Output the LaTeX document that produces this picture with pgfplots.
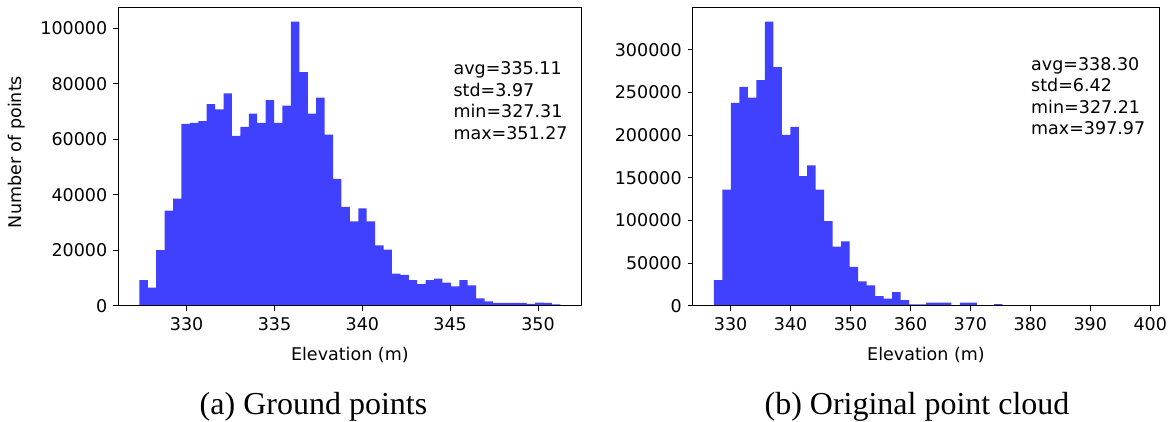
\documentclass[border=0pt]{standalone}
\usepackage{pgfplots}
\pgfplotsset{compat=1.18}
\usepackage{fontspec}
\setmainfont{DejaVu Sans}
\newfontfamily\capfont{Liberation Serif}
\definecolor{histblue}{RGB}{64,64,255}

\begin{document}
\begin{tikzpicture}
\useasboundingbox (0pt,0pt) rectangle (1170pt,421pt);
\pgfplotsset{
 hist/.style={
  scale only axis,
  height=298.4pt,
  anchor=south west,
  axis on top,
  axis line style={black, line width=1pt},
  every tick/.style={black, line width=1pt},
  major tick length=5pt,
  tick align=outside,
  xtick pos=left, ytick pos=left,
  scaled y ticks=false, scaled x ticks=false,
  /pgf/number format/fixed,
  /pgf/number format/1000 sep={},
  /pgf/number format/assume math mode=true,
  ticklabel style={font=\fontsize{17.5}{21}\selectfont},
  xticklabel style={yshift=-3pt},
  yticklabel style={xshift=-2.5pt},
  label style={font=\fontsize{17.5}{21}\selectfont},
  xlabel style={at={(axis description cs:0.5,-0.1853)}, anchor=base},
  ymin=0,
 }
}
% ---------- (a) ground points ----------
\begin{axis}[hist, at={(118.3pt,115.3pt)}, width=463.1pt,
  xmin=326.11, xmax=352.47, ymax=107520,
  xtick={330,335,340,345,350},
  ytick={0,20000,40000,60000,80000,100000},
  xlabel={Elevation (m)}, ylabel={Number of points},
  ylabel style={at={(axis description cs:-0.208,0.515)}, anchor=base, rotate=0}]
\addplot[const plot, fill=histblue, draw=none] coordinates {
(327.31,9200) (327.789,6500) (328.268,20000) (328.748,34300) (329.227,38600)
(329.706,65500) (330.185,65900) (330.664,66500) (331.144,72600) (331.623,70700)
(332.102,76500) (332.581,61200) (333.060,64400) (333.540,69200) (334.019,65900)
(334.498,74100) (334.977,65900) (335.456,72100) (335.936,102400) (336.415,84200)
(336.894,69200) (337.373,75000) (337.852,61600) (338.332,45700) (338.811,35600)
(339.290,30400) (339.769,35100) (340.248,30400) (340.728,21700) (341.207,20200)
(341.686,11600) (342.165,11100) (342.644,9200) (343.124,7800) (343.603,9200)
(344.082,9800) (344.561,8300) (345.040,7000) (345.520,9200) (345.999,7300)
(346.478,2600) (346.957,1600) (347.436,1000) (347.916,1000) (348.395,1000)
(348.874,1000) (349.353,700) (349.832,1100) (350.312,1000) (350.791,500)
(351.27,500)} \closedcycle;
\node[anchor=north west, inner sep=0pt, align=left, font=\fontsize{17.5}{21.5}\selectfont]
  at (rel axis cs:0.7235,0.818) {avg=335.11\\std=3.97\\min=327.31\\max=351.27};
\end{axis}
% ---------- (b) original point cloud ----------
\begin{axis}[hist, at={(692.7pt,115.3pt)}, width=466.6pt,
  xmin=323.67, xmax=401.51, ymax=349755,
  xtick={330,340,350,360,370,380,390,400},
  ytick={0,50000,100000,150000,200000,250000,300000},
  xlabel={Elevation (m)}]
\addplot[const plot, fill=histblue, draw=none] coordinates {
(327.21,30000) (328.625,136000) (330.040,237700) (331.456,256400) (332.871,243900)
(334.286,264500) (335.701,333100) (337.116,279700) (338.532,200300) (339.947,209600)
(341.362,152000) (342.777,164400) (344.192,136000) (345.608,99000) (347.023,69200)
(348.438,75400) (349.853,45600) (351.268,28400) (352.684,23800) (354.099,11300)
(355.514,8200) (356.929,16000) (358.344,6600) (359.760,1600) (361.175,1600)
(362.590,3500) (364.005,3500) (365.420,3500) (366.836,400) (368.251,3500)
(369.666,3500) (371.081,300) (372.496,300) (373.912,1900) (375.327,100)
(376.742,50) (378.157,50) (379.572,30) (380.988,30) (382.403,20)
(383.818,20) (385.233,10) (386.648,10) (388.064,10) (389.479,10)
(390.894,10) (392.309,10) (393.724,10) (395.140,10) (396.555,10)
(397.97,10)} \closedcycle;
\node[anchor=north west, inner sep=0pt, align=left, font=\fontsize{17.5}{21.5}\selectfont]
  at (rel axis cs:0.725,0.834) {avg=338.30\\std=6.42\\min=327.21\\max=397.97};
\end{axis}
% ---------- captions ----------
\node[anchor=base, inner sep=0pt, font=\capfont\fontsize{32}{36}\selectfont] at (313.5pt,7pt) {(a) Ground points};
\node[anchor=base, inner sep=0pt, font=\capfont\fontsize{32}{36}\selectfont] at (917pt,7pt) {(b) Original point cloud};
\end{tikzpicture}
\end{document}
